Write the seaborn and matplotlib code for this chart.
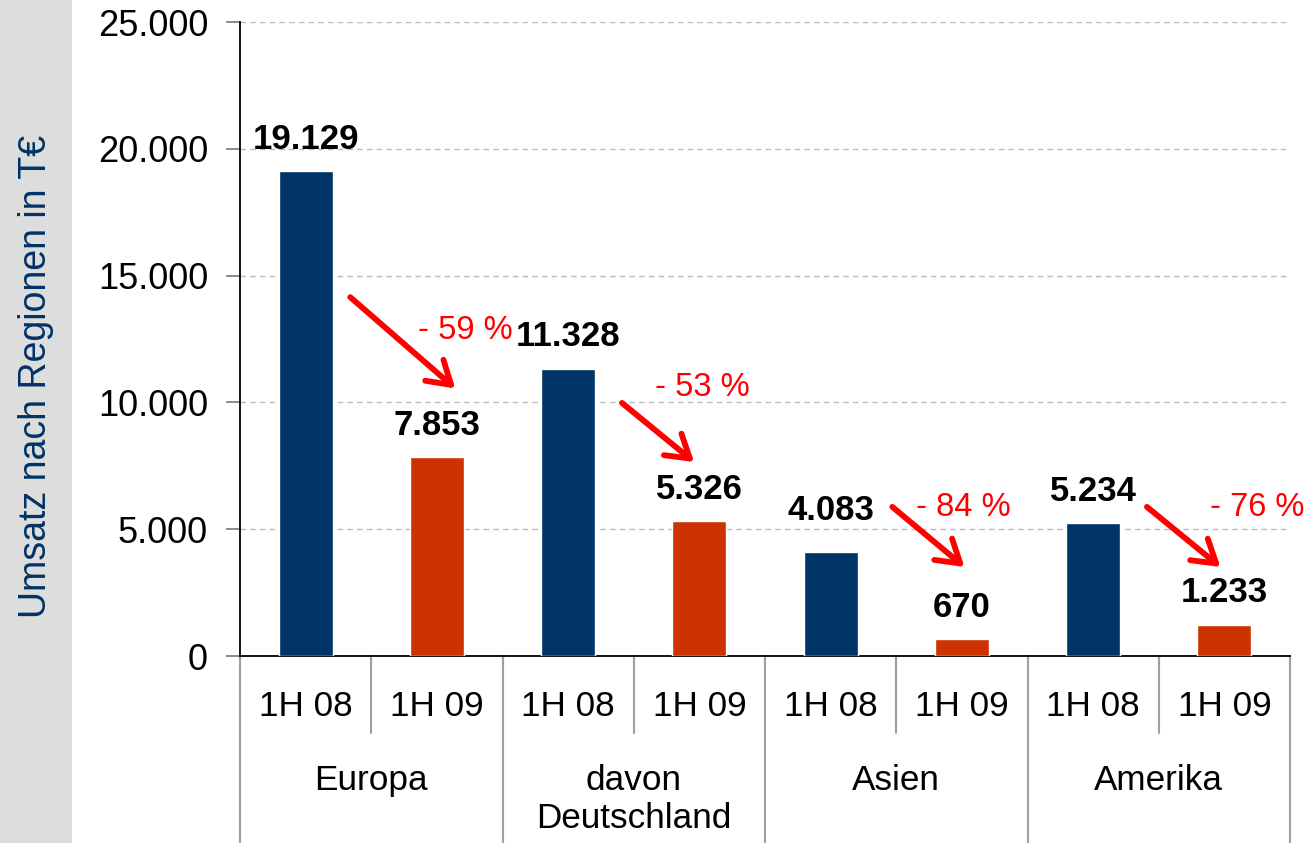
import matplotlib
matplotlib.use("Agg")
import matplotlib.pyplot as plt
import matplotlib.transforms as mtransforms
from matplotlib.patches import Rectangle
from matplotlib.ticker import FuncFormatter
import seaborn as sns
import pandas as pd

# ---- data ----
groups = ["Europa", "davon\nDeutschland", "Asien", "Amerika"]
periods = ["1H 08", "1H 09"]
values_1h08 = [19129, 11328, 4083, 5234]
values_1h09 = [7853, 5326, 670, 1233]
pct_labels = ["- 59 %", "- 53 %", "- 84 %", "- 76 %"]
y_ticks = [0, 5000, 10000, 15000, 20000, 25000]
y_label = "Umsatz nach Regionen in T€"

# arrow annotations (start x, start y, end x, end y) and percent label positions
arrows = [(0.34, 14150, 1.14, 10550),
          (2.41, 9980, 2.96, 7650),
          (4.47, 5880, 5.02, 3510),
          (6.41, 5880, 6.97, 3510)]
pct_pos = [(1.22, 12850), (3.02, 10570), (5.01, 5840), (7.25, 5840)]
label_offsets = [11, 11, 11, 11, 18, 11, 11, 11]

NAVY = "#003366"
ORANGE = "#CC3300"

rows = []
for gi, g in enumerate(groups):
    for pi, (p, vals) in enumerate(zip(periods, [values_1h08, values_1h09])):
        rows.append({"slot": f"{gi}-{pi}", "group": g, "period": p, "value": vals[gi]})
df = pd.DataFrame(rows)

sns.set_style("white")
plt.rcParams["font.family"] = ["Liberation Sans", "DejaVu Sans"]
plt.rcParams["text.color"] = "black"

fig = plt.figure(figsize=(13.08, 8.43), dpi=100)
fig.patches.append(Rectangle((0, 0), 72 / 1308, 1, transform=fig.transFigure,
                             facecolor="#DDDDDD", edgecolor="none", zorder=0))
ax = fig.add_axes([240 / 1308, 1 - 656 / 843, 1050 / 1308, 634 / 843])

sns.barplot(data=df, x="slot", y="value", hue="period",
            palette={"1H 08": NAVY, "1H 09": ORANGE}, dodge=False,
            width=0.41, saturation=1, legend=False, ax=ax, zorder=3)

ax.set_xlim(-0.5, 7.5)
ax.set_ylim(0, 25000)
ax.set_yticks(y_ticks)
ax.yaxis.set_major_formatter(FuncFormatter(lambda v, p: f"{v:,.0f}".replace(",", ".")))
ax.tick_params(axis="y", labelsize=26, length=10, width=1.2, color="#777777",
               pad=13, left=True, labelcolor="black")
ax.yaxis.grid(True, linestyle=(0, (4, 3)), color="#BBBBBB", linewidth=1)
ax.set_axisbelow(True)
ax.set_xlabel("")
ax.set_ylabel("")

for s in ["top", "right"]:
    ax.spines[s].set_visible(False)
for s in ["left", "bottom"]:
    ax.spines[s].set_color("black")
    ax.spines[s].set_linewidth(1.3)

# x ticks at slot boundaries
bounds = [i - 0.5 for i in range(9)]
ax.set_xticks(bounds)
ax.set_xticklabels([])
ax.tick_params(axis="x", length=4, width=1.5, color="#555555", bottom=True)

trans = mtransforms.blended_transform_factory(ax.transData, ax.transAxes)
y_fig_bottom = -(843 - 656) / 634
for i, b in enumerate(bounds):
    if i % 2 == 0:
        ax.plot([b, b], [0, y_fig_bottom], transform=trans, color="#A0A0A0",
                lw=1.5, clip_on=False)
    else:
        ax.plot([b, b], [0, -(733 - 656) / 634], transform=trans, color="#A0A0A0",
                lw=1.5, clip_on=False)

# category labels
for gi, g in enumerate(groups):
    for pi, p in enumerate(periods):
        ax.text(2 * gi + pi, -(706 - 656) / 634, p, transform=trans, ha="center",
                va="center", fontsize=25.3, color="black")
    ax.text(2 * gi + 0.5, -(764 - 656) / 634, g, transform=trans, ha="center",
            va="top", fontsize=25.3, linespacing=1.2, color="black")

# value labels
for i, (x, v) in enumerate(zip(range(8), df["value"])):
    ax.annotate(f"{v:,.0f}".replace(",", "."), xy=(x, v), xytext=(0, label_offsets[i]),
                textcoords="offset points", ha="center", va="bottom",
                fontsize=25, fontweight="bold", color="black")

# arrows and percent labels
for (x0, y0, x1, y1), (px, py), t in zip(arrows, pct_pos, pct_labels):
    ax.annotate("", xy=(x1, y1), xytext=(x0, y0),
                arrowprops=dict(arrowstyle="->,head_length=0.8,head_width=0.5",
                                color="#FF0000", lw=4.2, mutation_scale=20,
                                shrinkA=0, shrinkB=0), zorder=5)
    ax.text(px, py, t, ha="center", va="center", fontsize=23.5, color="#FF0000", zorder=5)

fig.text(36 / 1308, 1 - 376 / 843, y_label, rotation=90, ha="center", va="center",
         fontsize=27, color=NAVY)

fig.savefig("out.png", dpi=100)
